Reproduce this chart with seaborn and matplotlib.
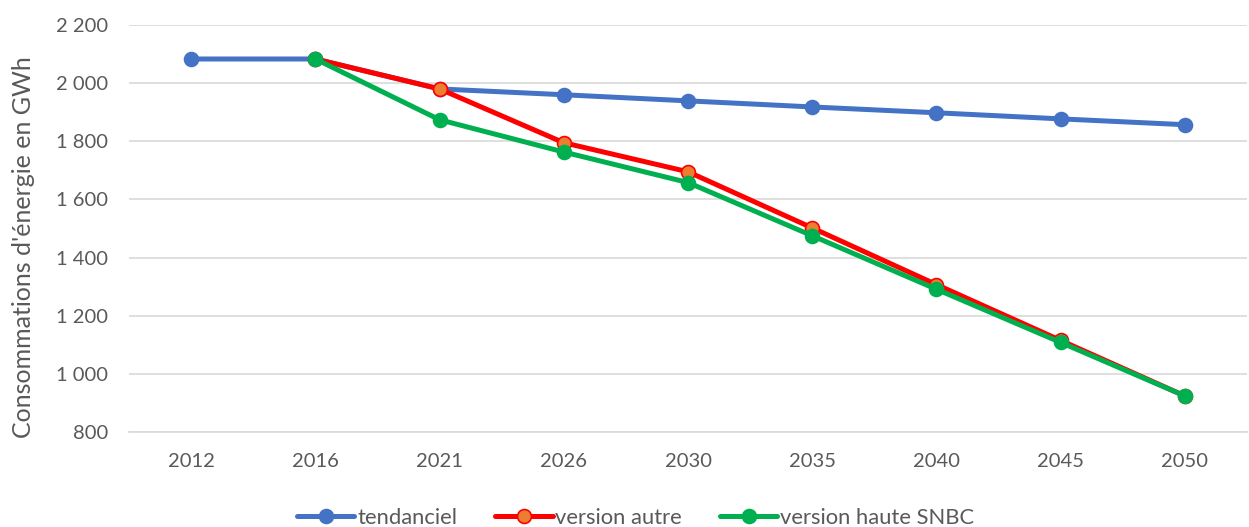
import numpy as np
import pandas as pd
import matplotlib
matplotlib.use("Agg")
import matplotlib.pyplot as plt
from matplotlib.ticker import FuncFormatter, MultipleLocator
from matplotlib.lines import Line2D
import seaborn as sns

years = ["2012", "2016", "2021", "2026", "2030", "2035", "2040", "2045", "2050"]
tendanciel = [2083, 2083, 1980, 1960, 1939, 1918, 1898, 1877, 1857]
version_autre = [np.nan, 2083, 1980, 1795, 1695, 1502, 1307, 1115, 924]
version_haute_snbc = [np.nan, 2083, 1874, 1763, 1658, 1475, 1291, 1108, 924]

series_names = ["tendanciel", "version autre", "version haute SNBC"]
line_colors = ["#4472C4", "#FF0000", "#00B050"]
marker_faces = ["#4472C4", "#ED7D31", "#00B050"]
marker_edges = ["#4472C4", "#FF0000", "#00B050"]

df = pd.DataFrame({
    "année": years * 3,
    "valeur": tendanciel + version_autre + version_haute_snbc,
    "scénario": sum([[n] * len(years) for n in series_names], []),
})

sns.set_theme(style="white")
plt.rcParams["font.family"] = ["Lato", "DejaVu Sans"]
text_color = "#595959"

fig = plt.figure(figsize=(12.49, 5.27), dpi=100)
ax = fig.add_axes([0.1033, 0.1803, 0.8951, 0.7723])

for name, lc, mf, me in zip(series_names, line_colors, marker_faces, marker_edges):
    sub = df[df["scénario"] == name].dropna()
    sns.lineplot(data=sub, x="année", y="valeur", ax=ax, color=lc, linewidth=3.6,
                 marker="o", markersize=10, markerfacecolor=mf, markeredgecolor=me,
                 markeredgewidth=1.2, sort=False, legend=False, zorder=3)

ax.set_xlim(-0.5, len(years) - 0.5)
ax.set_ylim(800, 2200)
ax.yaxis.set_major_locator(MultipleLocator(200))
ax.yaxis.set_major_formatter(FuncFormatter(lambda v, p: f"{int(v):,}".replace(",", " ")))
ax.grid(axis="y", color="#D9D9D9", linewidth=1.2, zorder=0)
ax.grid(axis="x", visible=False)
for s in ["top", "right", "left"]:
    ax.spines[s].set_visible(False)
ax.spines["bottom"].set_color("#D9D9D9")
ax.spines["bottom"].set_linewidth(1.2)
ax.tick_params(axis="both", length=0, labelsize=14.5, labelcolor=text_color)
ax.tick_params(axis="x", pad=15)
ax.tick_params(axis="y", pad=15)
ax.set_xlabel("")
ax.set_ylabel("Consommations d'énergie en GWh", fontsize=18, color=text_color)
ax.yaxis.set_label_coords(-0.084, 0.455)

handles = [Line2D([0], [0], color=lc, linewidth=3.6, marker="o", markersize=10,
                  markerfacecolor=mf, markeredgecolor=me, markeredgewidth=1.2)
           for lc, mf, me in zip(line_colors, marker_faces, marker_edges)]
fig.legend(handles, series_names, loc="center", bbox_to_anchor=(0.509, 0.018), ncol=3,
           frameon=False, fontsize=15.8, labelcolor=text_color, handlelength=2.6,
           handletextpad=0.12, columnspacing=1.75)

fig.savefig("out.png", dpi=100, facecolor="white")
